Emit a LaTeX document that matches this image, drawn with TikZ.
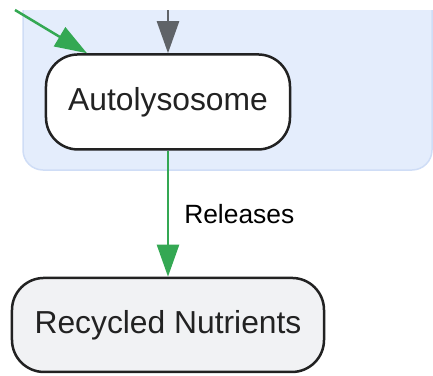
\documentclass[tikz,border=0pt]{standalone}
\usepackage{fontspec}
\setmainfont{Liberation Sans}
\usepackage{tikz}
\usetikzlibrary{matrix,arrows.meta}

\definecolor{clusterfill}{HTML}{E4EDFC}
\definecolor{clusterline}{HTML}{CFDDF6}
\definecolor{greenedge}{HTML}{34A853}
\definecolor{grayedge}{HTML}{5F6368}
\definecolor{nodeline}{HTML}{222222}
\definecolor{nutrientfill}{HTML}{F1F2F4}

\begin{document}
\begin{tikzpicture}[x=1pt, y=-1pt,
  organelle/.style={draw=nodeline, line width=2.5pt, rounded corners=32pt,
    fill=white, text=nodeline, minimum width=244pt, minimum height=95pt,
    font=\fontsize{31.8}{38}\selectfont},
  product/.style={organelle, fill=nutrientfill, minimum width=312pt, minimum height=94pt},
  flow/.style={line width=2.5pt, -{Triangle[length=32pt,width=22pt]}}
]
  \useasboundingbox (0,0) rectangle (433,375);
  % cluster
  \filldraw[fill=clusterfill, draw=clusterline, line width=1.5pt, rounded corners=20pt]
    (23,10) -- (23,170) -- (432,170) -- (432,10);

  \matrix (m) [matrix of nodes, row sep=126pt, inner sep=0pt, anchor=north] at (168,53)
  {
 |[organelle]| Autolysosome \\
 |[product]| Recycled Nutrients \\
};
  \coordinate (fromleft) at (15,10);
  \coordinate (fromtop) at (168,10);
  \path[flow]
  (fromleft) edge [greenedge] (m-1-1)
  (fromtop) edge [grayedge] (m-1-1.north)
  (m-1-1) edge [greenedge] node [right=15pt, inner sep=0pt, text=black,
     font=\fontsize{26.4}{32}\selectfont] {Releases} (m-2-1)
  ;
\end{tikzpicture}
\end{document}
